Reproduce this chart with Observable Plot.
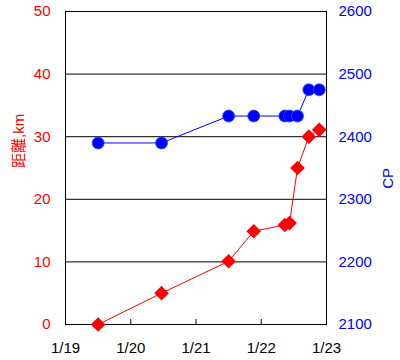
<!DOCTYPE html>
<html>
<head>
<meta charset="utf-8">
<script src="https://cdn.jsdelivr.net/npm/d3@7"></script>
<script src="https://cdn.jsdelivr.net/npm/@observablehq/plot@0.6"></script>
<style>
  html, body { margin: 0; padding: 0; background: #fff; }
</style>
</head>
<body>
<div id="chart"></div>
<script>
// Data
const times = ["2023-01-19T12:00Z", "2023-01-20T11:20Z", "2023-01-21T12:00Z", "2023-01-21T21:15Z",
               "2023-01-22T08:40Z", "2023-01-22T10:25Z", "2023-01-22T13:20Z", "2023-01-22T17:30Z", "2023-01-22T21:20Z"];
const distanceKm = [0, 5, 10.1, 14.9, 15.9, 16.2, 25, 30, 31.1];
const cpValues = [2390, 2390, 2433, 2433, 2433, 2433, 2433, 2475, 2475];
const dateTicks = ["2023-01-19T00:00Z", "2023-01-20T00:00Z", "2023-01-21T00:00Z", "2023-01-22T00:00Z", "2023-01-23T00:00Z"];
const kmTicks = [0, 10, 20, 30, 40, 50];
const cpTicks = [2100, 2200, 2300, 2400, 2500, 2600];
const leftTitle = "距離,km";
const rightTitle = "CP";

const cpMin = 2100, cpMax = 2600, kmMax = 50;
const cpToKm = v => (v - cpMin) / (cpMax - cpMin) * kmMax;
const kmToCp = v => cpMin + v / kmMax * (cpMax - cpMin);

const dates = dateTicks.map(d => new Date(d));
const rows = times.map((t, i) => ({t: new Date(t), km: distanceKm[i], cp: cpValues[i], cpY: cpToKm(cpValues[i])}));

const fmt = d3.utcFormat("%-m/%-d");

const chart = Plot.plot({
  width: 400,
  height: 360,
  marginLeft: 65,
  marginRight: 74,
  marginTop: 11,
  marginBottom: 36,
  style: {fontFamily: "'Liberation Sans', 'Noto Sans CJK JP', sans-serif", fontSize: "15px", background: "#fff"},
  x: {type: "utc", domain: [dates[0], dates[dates.length - 1]]},
  y: {domain: [0, kmMax]},
  marks: [
    Plot.ruleY(kmTicks.slice(1), {stroke: "black", strokeWidth: 1}),
    Plot.frame({stroke: "black", strokeWidth: 1}),
    Plot.ruleX(dates.slice(1, -1), {y1: 0, y2: 0.8, stroke: "black"}),
    Plot.axisX({ticks: dates, tickFormat: fmt, tickSize: 0, tickPadding: 18, fill: "black", label: null}),
    Plot.axisY({anchor: "left", ticks: kmTicks, tickSize: 0, tickPadding: 15, fill: "#ff0000", label: null}),
    Plot.axisY({anchor: "right", ticks: cpTicks.map(cpToKm), tickFormat: d => String(Math.round(kmToCp(d))), tickSize: 0, tickPadding: 12, fill: "#0000ff", label: null}),
    Plot.text([leftTitle], {frameAnchor: "left", dx: -46, rotate: -90, fill: "#ff0000", fontSize: 15}),
    Plot.text([rightTitle], {frameAnchor: "right", dx: 62, rotate: -90, fill: "#0000ff", fontSize: 15}),
    Plot.line(rows, {x: "t", y: "cpY", stroke: "#0000ff", strokeWidth: 1}),
    Plot.dot(rows, {x: "t", y: "cpY", r: 6, fill: "#0000ff", stroke: "#2050ff", strokeWidth: 0.8}),
    Plot.line(rows, {x: "t", y: "km", stroke: "#ff0000", strokeWidth: 1}),
    Plot.dot(rows, {x: "t", y: "km", symbol: "diamond2", r: 6.6, fill: "#ff0000", stroke: "none"})
  ]
});
document.getElementById("chart").appendChild(chart);
</script>
</body>
</html>
